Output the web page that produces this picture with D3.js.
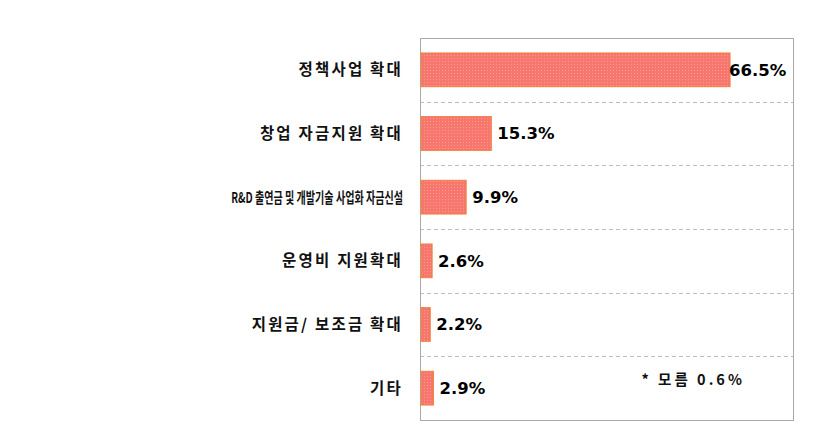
<!DOCTYPE html>
<html><head><meta charset="utf-8">
<script src="https://cdn.jsdelivr.net/npm/d3@7"></script>
<style>
html,body{margin:0;padding:0;background:#fff;}
svg{display:block;}
</style></head>
<body>
<svg id="chart" width="836" height="444"></svg>
<script>
const categories = ["정책사업 확대","창업 자금지원 확대","R&D 출연금 및 개발기술 사업화 자금신설","운영비 지원확대","지원금/ 보조금 확대","기타"];
const values = [66.5, 15.3, 9.9, 2.6, 2.2, 2.9];
const valueLabels = ["66.5%","15.3%","9.9%","2.6%","2.2%","2.9%"];
const note = "* 모름 0.6%";
const xMax = 80;

const svg = d3.select("#chart");
const m = {left:420, right:43, top:38, bottom:24};
const W = 836, H = 444;
const maxLabelWidth = 172;
const x = d3.scaleLinear().domain([0, xMax]).range([m.left, W - m.right]);
const y = d3.scaleBand().domain(categories).range([m.top, H - m.bottom]).paddingInner(0).paddingOuter(0);

const defs = svg.append("defs");
const pat = defs.append("pattern").attr("id","dots").attr("width",3).attr("height",3).attr("patternUnits","userSpaceOnUse");
pat.append("rect").attr("width",3).attr("height",3).attr("fill","#f7766e");
pat.append("rect").attr("x",1).attr("y",1).attr("width",1).attr("height",1).attr("fill","#fb9a92");

// gridlines between bands
svg.append("g").selectAll("line").data(categories.slice(1)).join("line")
  .attr("x1", x(0)).attr("x2", x(xMax))
  .attr("y1", d => Math.round(y(d)) + 0.5).attr("y2", d => Math.round(y(d)) + 0.5)
  .attr("stroke","#bdbdbd").attr("stroke-dasharray","4,3").attr("stroke-width",1);

// frame
svg.append("rect").attr("x", x(0)+0.5).attr("y", m.top+0.5)
  .attr("width", x(xMax)-x(0)).attr("height", H - m.bottom - m.top)
  .attr("fill","none").attr("stroke","#a9a9a9").attr("stroke-width",1);

const bh = y.bandwidth() * 0.53;
svg.append("g").selectAll("rect").data(values).join("rect")
  .attr("x", x(0)+1)
  .attr("y", (d,i) => y(categories[i]) + (y.bandwidth()-bh)/2)
  .attr("width", d => x(d) - x(0) - 1)
  .attr("height", bh)
  .attr("fill","url(#dots)")
  .attr("stroke","#f0823c").attr("stroke-width",1);

// category labels
svg.append("g").selectAll("text").data(categories).join("text")
  .attr("transform", d => `translate(${m.left - 17},${y(d) + y.bandwidth()/2})`)
  .attr("x", 0).attr("y", 0)
  .attr("dy","0.36em")
  .attr("text-anchor","end")
  .attr("font-family","'Noto Sans CJK KR', sans-serif")
  .attr("font-weight", 700)
  .attr("font-size", 15.5)
  .attr("letter-spacing", 2.2)
  .attr("fill","#111")
  .text(d => d)
  .each(function(d){
    const t = d3.select(this);
    if (this.getComputedTextLength() > maxLabelWidth) {
      t.attr("letter-spacing", 0).attr("font-size", 15);
      const k = maxLabelWidth / this.getComputedTextLength();
      t.attr("transform", `translate(${m.left - 17},${y(d) + y.bandwidth()/2}) scale(${k},1)`);
    }
  });

// value labels
svg.append("g").selectAll("text").data(values).join("text")
  .attr("x", d => Math.min(x(d) + 6, x(xMax) - 64))
  .attr("y", (d,i) => y(categories[i]) + y.bandwidth()/2)
  .attr("dy","0.36em")
  .attr("font-family","'DejaVu Sans', sans-serif")
  .attr("font-weight","bold")
  .attr("font-size", 16.5)
  .attr("fill","#000")
  .text((d,i) => valueLabels[i]);

// note
svg.append("text")
  .attr("x", x(47.5))
  .attr("y", y(categories[5]) + y.bandwidth()/2 - 8)
  .attr("dy","0.36em")
  .attr("font-family","'Noto Sans CJK KR', sans-serif")
  .attr("font-weight", 700)
  .attr("font-size", 14.5)
  .attr("letter-spacing", 3)
  .attr("fill","#111")
  .text(note);
</script>
</body></html>
